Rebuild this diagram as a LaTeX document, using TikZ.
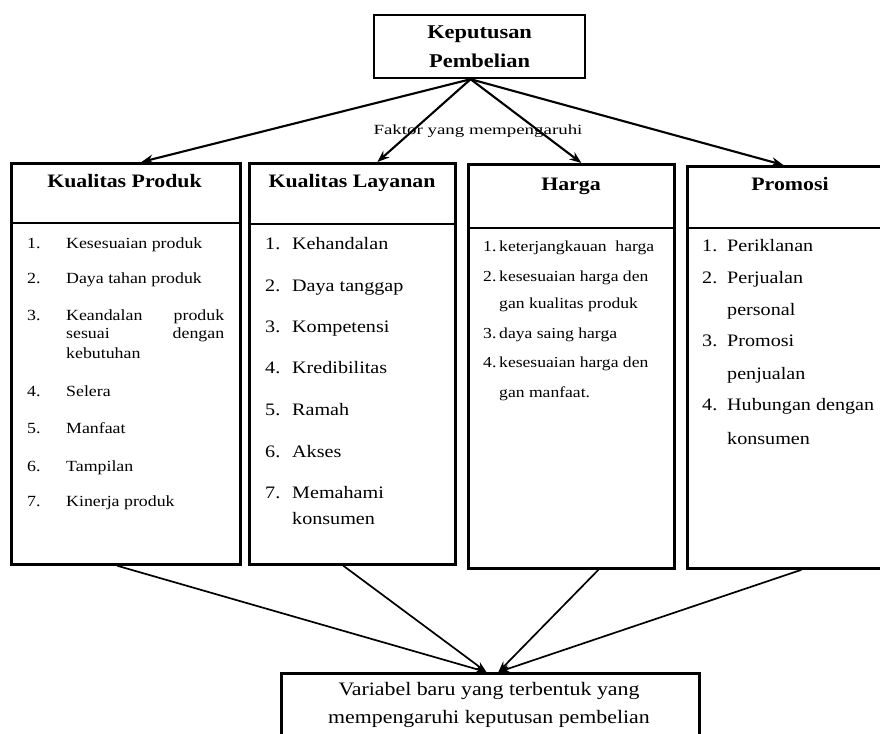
\documentclass[tikz,border=0pt]{standalone}
\usepackage{fontspec}
\setmainfont[FakeStretch=1.15]{Liberation Serif}
\newfontfamily\faktorfont[FakeStretch=1.35]{Liberation Serif}
\usetikzlibrary{arrows.meta}
\begin{document}
\begin{tikzpicture}[x=1pt,y=-1pt,
  topbox/.style={draw, line width=2.2pt, inner sep=0pt, minimum width=211pt, minimum height=63pt, align=center,
    font=\fontsize{19.5}{29}\selectfont\bfseries},
  catbox/.style={draw, line width=2.8pt, inner sep=0pt, anchor=north west},
  divider/.style={line width=2.8pt},
  arr/.style={line width=2.1pt, -{Stealth[length=12pt,width=9pt]}},
  arrb/.style={line width=1.7pt, -{Stealth[length=11pt,width=8pt]}},
  ttl/.style={font=\fontsize{19}{22}\selectfont\bfseries, anchor=base, inner sep=0pt},
  itA/.style={font=\fontsize{15.5}{18}\selectfont, anchor=base west, inner sep=0pt},
  itB/.style={font=\fontsize{17.5}{20}\selectfont, anchor=base west, inner sep=0pt},
  itC/.style={font=\fontsize{15.3}{18}\selectfont, anchor=base west, inner sep=0pt},
  lbl/.style={font=\faktorfont\fontsize{14}{16}\selectfont, anchor=base, inner sep=0pt},
  bottxt/.style={font=\fontsize{19}{22}\selectfont, anchor=base, inner sep=0pt}
]
\useasboundingbox (0,0) rectangle (880,733);
\clip (0,0) rectangle (880,733);

% top box
\node[topbox, anchor=north west] (top) at (373,14) {Keputusan\\Pembelian};
\coordinate (apex) at ([xshift=-9pt]top.south);

% category boxes
\node[catbox, minimum width=229pt, minimum height=401pt] (kp) at (10,162) {};
\node[catbox, minimum width=206pt, minimum height=401pt] (kl) at (248,162) {};
\node[catbox, minimum width=206pt, minimum height=404pt] (hg) at (467,163) {};
\node[catbox, minimum width=200pt, minimum height=402pt] (pr) at (686,165) {};

\draw[divider] ([yshift=-61pt]kp.north west) -- ([yshift=-61pt]kp.north east);
\draw[divider] ([yshift=-62pt]kl.north west) -- ([yshift=-62pt]kl.north east);
\draw[divider] ([yshift=-65pt]hg.north west) -- ([yshift=-65pt]hg.north east);
\draw[divider] ([yshift=-63pt]pr.north west) -- ([yshift=-63pt]pr.north east);

% titles
\node[ttl] (t1) at (124.5,187) {Kualitas Produk};
\node[ttl] (t2) at (352,187) {Kualitas Layanan};
\node[ttl] (t3) at (571,190) {Harga};
\node[ttl] (t4) at (790,190) {Promosi};

% bottom box
\node[catbox, minimum width=418pt, minimum height=72pt] (bot) at (280,672) {};
\node[bottxt] (b1) at (489,695) {Variabel baru yang terbentuk yang};
\node[bottxt] (b2) at (489,723) {mempengaruhi keputusan pembelian};

% label
\node[lbl] (fk) at (478,135) {Faktor yang mempengaruhi};

% top arrows
\draw[arr] (apex) -- ([xshift=15.5pt]kp.north);
\draw[arr] (apex) -- ([xshift=25pt]kl.north);
\draw[arr] (apex) -- ([xshift=10pt]hg.north);
\draw[arr] (apex) -- ([xshift=-4pt]pr.north);

% bottom arrows
\draw[arrb] ([xshift=-8.5pt]kp.south) -- ([xshift=-4pt]bot.north);
\draw[arrb] ([xshift=-9pt]kl.south) -- ([xshift=-4pt]bot.north);
\draw[arrb] ([xshift=27pt]hg.south) -- ([xshift=8pt]bot.north);
\draw[arrb] ([xshift=14pt]pr.south) -- ([xshift=8pt]bot.north);

% box 1 items
\node[itA] (a1n) at (27,248) {1.};  \node[itA] (a1) at (66,248) {Kesesuaian produk};
\node[itA] (a2n) at (27,283) {2.};  \node[itA] (a2) at (66,283) {Daya tahan produk};
\node[itA] (a3n) at (27,320) {3.};  \node[itA] (a3) at (66,320) {\makebox[158pt][s]{Keandalan produk}};
\node[itA] (a3b) at (66,338) {\makebox[158pt][s]{sesuai dengan}};
\node[itA] (a3c) at (66,358) {kebutuhan};
\node[itA] (a4n) at (27,396) {4.};  \node[itA] (a4) at (66,396) {Selera};
\node[itA] (a5n) at (27,433) {5.};  \node[itA] (a5) at (66,433) {Manfaat};
\node[itA] (a6n) at (27,471) {6.};  \node[itA] (a6) at (66,471) {Tampilan};
\node[itA] (a7n) at (27,506) {7.};  \node[itA] (a7) at (66,506) {Kinerja produk};

% box 2 items
\node[itB] (c1n) at (265,249) {1.}; \node[itB] (c1) at (292,249) {Kehandalan};
\node[itB] (c2n) at (265,291) {2.}; \node[itB] (c2) at (292,291) {Daya tanggap};
\node[itB] (c3n) at (265,332) {3.}; \node[itB] (c3) at (292,332) {Kompetensi};
\node[itB] (c4n) at (265,373) {4.}; \node[itB] (c4) at (292,373) {Kredibilitas};
\node[itB] (c5n) at (265,415) {5.}; \node[itB] (c5) at (292,415) {Ramah};
\node[itB] (c6n) at (265,457) {6.}; \node[itB] (c6) at (292,457) {Akses};
\node[itB] (c7n) at (265,498) {7.}; \node[itB] (c7) at (292,498) {Memahami};
\node[itB] (c7b) at (292,524) {konsumen};

% box 3 items
\node[itC] (h1n) at (483,251) {1.}; \node[itC] (h1) at (499,251) {keterjangkauan\ \ harga};
\node[itC] (h2n) at (483,281) {2.}; \node[itC] (h2) at (499,281) {kesesuaian harga den};
\node[itC] (h2b) at (499,308) {gan kualitas produk};
\node[itC] (h3n) at (483,338) {3.}; \node[itC] (h3) at (499,338) {daya saing harga};
\node[itC] (h4n) at (483,367) {4.}; \node[itC] (h4) at (499,367) {kesesuaian harga den};
\node[itC] (h4b) at (499,397) {gan manfaat.};

% box 4 items
\node[itB] (p1n) at (702,251) {1.}; \node[itB] (p1) at (727,251) {Periklanan};
\node[itB] (p2n) at (702,283) {2.}; \node[itB] (p2) at (727,283) {Perjualan};
\node[itB] (p2b) at (727,315) {personal};
\node[itB] (p3n) at (702,346) {3.}; \node[itB] (p3) at (727,346) {Promosi};
\node[itB] (p3b) at (727,379) {penjualan};
\node[itB] (p4n) at (702,410) {4.}; \node[itB] (p4) at (727,410) {Hubungan dengan};
\node[itB] (p4b) at (727,444) {konsumen};
\end{tikzpicture}
\end{document}
